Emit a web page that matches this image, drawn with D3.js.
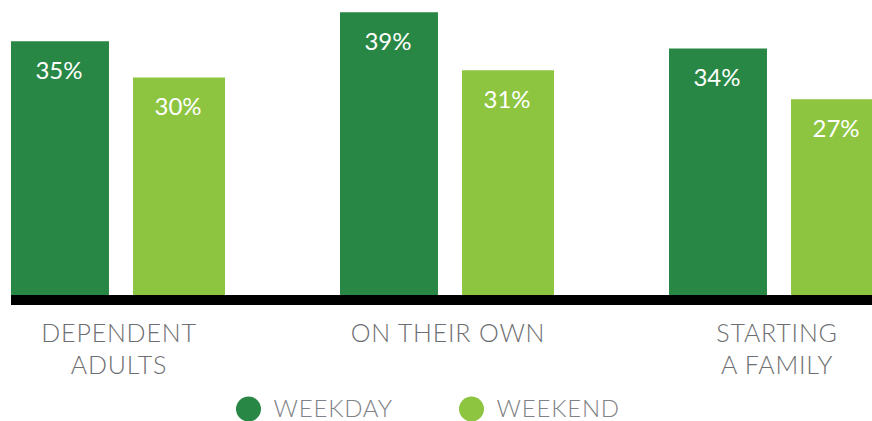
<!DOCTYPE html>
<html><head><meta charset="utf-8">
<script src="https://cdn.jsdelivr.net/npm/d3@7"></script>
<style>html,body{margin:0;padding:0;background:#fff;overflow:hidden}</style>
</head><body>
<svg id="c" width="872" height="421"></svg>
<script>
const categories = ["DEPENDENT ADULTS", "ON THEIR OWN", "STARTING A FAMILY"];
const categoryLines = [["DEPENDENT", "ADULTS"], ["ON THEIR OWN"], ["STARTING", "A FAMILY"]];
const series = ["WEEKDAY", "WEEKEND"];
const weekday = [35, 39, 34];
const weekend = [30, 31, 27];
const seriesValues = [weekday, weekend];
const colors = ["#288744", "#8dc540"];

const svg = d3.select("#c");
const baseY = 295;
const y = d3.scaleLinear().domain([0, 40]).range([baseY, 5]);
const x0 = d3.scaleBand().domain(categories).range([11, 998]).paddingInner(0).paddingOuter(0);
const x1 = d3.scaleBand().domain(series).range([0, 220]).paddingInner(0.197).paddingOuter(0);
const color = d3.scaleOrdinal().domain(series).range(colors);
const font = "Lato, 'Open Sans', sans-serif";
const barW = s => s === "WEEKDAY" ? x1.bandwidth() : x1.bandwidth() - 6;

const data = [];
categories.forEach((c, i) => series.forEach((s, j) => data.push({c, s, v: seriesValues[j][i]})));

const g = svg.append("g");
g.selectAll("rect.bar").data(data).enter().append("rect")
  .attr("class", "bar")
  .attr("x", d => x0(d.c) + x1(d.s))
  .attr("y", d => y(d.v))
  .attr("width", d => barW(d.s))
  .attr("height", d => y(0) - y(d.v))
  .attr("fill", d => color(d.s));

g.selectAll("text.val").data(data).enter().append("text")
  .attr("class", "val")
  .attr("x", d => x0(d.c) + x1(d.s) + barW(d.s) / 2 - 1)
  .attr("y", d => y(d.v) + 37.5)
  .attr("text-anchor", "middle")
  .attr("fill", "#fff")
  .attr("font-family", font)
  .attr("font-size", 24)
  .text(d => d.v + "%");

// baseline
svg.append("rect").attr("x", x0.range()[0]).attr("y", baseY).attr("width", 872).attr("height", 10).attr("fill", "#000");

// category labels
categories.forEach((c, i) => {
  const cx = x0(c) + 108;
  const t = svg.append("text").attr("text-anchor", "middle")
    .attr("fill", "#6d6e71").attr("font-family", font).attr("font-weight", 300)
    .attr("font-size", 25).attr("letter-spacing", 0.8);
  categoryLines[i].forEach((ln, k) => {
    t.append("tspan").attr("x", cx).attr("y", 342 + k * 32).text(ln);
  });
});

// legend
const legendX = [248.5, 471.5];
series.forEach((s, i) => {
  svg.append("circle").attr("cx", legendX[i]).attr("cy", 409).attr("r", 12.5).attr("fill", color(s));
  svg.append("text").attr("x", legendX[i] + 25).attr("y", 417)
    .attr("fill", "#808285").attr("font-family", font).attr("font-weight", 300)
    .attr("font-size", 24).attr("letter-spacing", 0.8).text(s);
});
</script>
</body></html>
